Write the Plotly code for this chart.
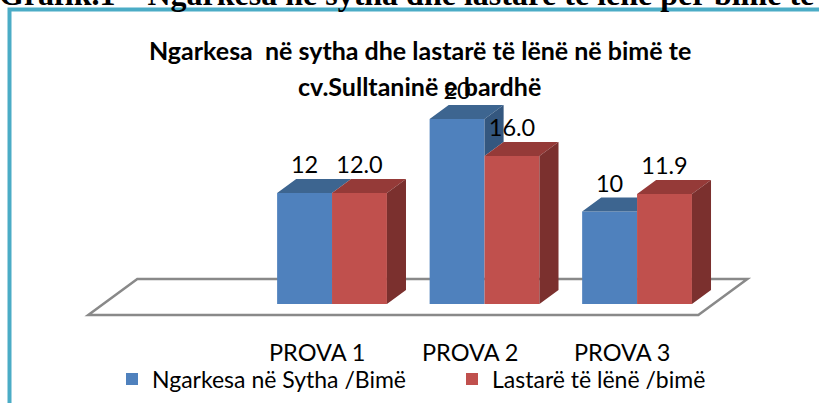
import plotly.graph_objects as go

# ---------------- data ----------------
categories = ["PROVA 1", "PROVA 2", "PROVA 3"]
ngarkesa_sytha = [12, 20, 10]          # Ngarkesa në Sytha /Bimë
lastare_lene = [12.0, 16.0, 11.9]      # Lastarë të lënë /bimë
series_names = ["Ngarkesa në Sytha /Bimë", "Lastarë të lënë /bimë"]
title_lines = ["Ngarkesa  në sytha dhe lastarë të lënë në bimë te", "cv.Sulltaninë e bardhë"]
page_heading = "Grafik.1 – Ngarkesa në sytha dhe lastarë të lënë për bimë te cv.Sulltaninë e bardhë"

# ---------------- style ----------------
W, H = 819, 403
FONT = "Lato"
BLUE, BLUE_TOP, BLUE_SIDE = "#4F81BD", "#3D6590", "#34577F"
RED, RED_TOP, RED_SIDE = "#C0504D", "#953A38", "#7B302E"
BORDER = "#4BACC6"
FLOOR_LINE = "#898989"

BARGAP = 0.28
BAR_W = (1 - BARGAP) / 2
DX, DY = 0.125, 1.51            # oblique depth offset of bars, in axis units
FLOOR_FRONT, FLOOR_BACK = -11 / 14, 25 / 14   # floor depth, relative to bar depth
FLOOR_PAD_LEFT, FLOOR_PAD_RIGHT = 1.5, 0.5
XR = [-2.177, 3.193]
YR = [-10.70, 32.86]

xs = list(range(len(categories)))

fig = go.Figure()

# front faces
fig.add_trace(go.Bar(x=xs, y=ngarkesa_sytha, name=series_names[0], marker=dict(color=BLUE, line=dict(width=0)),
                     hoverinfo="skip"))
fig.add_trace(go.Bar(x=xs, y=lastare_lene, name=series_names[1], marker=dict(color=RED, line=dict(width=0)),
                     hoverinfo="skip"))


def poly_trace(polys, color):
    px, py = [], []
    for p in polys:
        for (a, b) in p + [p[0]]:
            px.append(a)
            py.append(b)
        px.append(None)
        py.append(None)
    return go.Scatter(x=px, y=py, mode="lines", fill="toself", fillcolor=color,
                      line=dict(width=0, color=color), showlegend=False, hoverinfo="skip")


blue_tops, blue_sides, red_tops, red_sides = [], [], [], []
for i, b, r in zip(xs, ngarkesa_sytha, lastare_lene):
    left = i - BAR_W
    if r >= b + DY:
        blue_tops.append([(left, b), (i, b), (i, b + DY), (left + DX, b + DY)])
    else:
        blue_tops.append([(left, b), (i, b), (i + DX, b + DY), (left + DX, b + DY)])
    if b > r:
        blue_sides.append([(i, r), (i + DX, r + DY), (i + DX, b + DY), (i, b)])
    right = i + BAR_W
    red_tops.append([(i, r), (right, r), (right + DX, r + DY), (i + DX, r + DY)])
    red_sides.append([(right, 0), (right + DX, DY), (right + DX, r + DY), (right, r)])

fig.add_trace(poly_trace(blue_tops, BLUE_TOP))
if blue_sides:
    fig.add_trace(poly_trace(blue_sides, BLUE_SIDE))
fig.add_trace(poly_trace(red_tops, RED_TOP))
fig.add_trace(poly_trace(red_sides, RED_SIDE))

# data labels
LABEL_SIZE = 23.5
fig.add_trace(go.Scatter(x=[i - BAR_W / 2 for i in xs], y=[v + DY for v in ngarkesa_sytha], mode="text",
                         text=[f"{v:.0f}" for v in ngarkesa_sytha], textposition="top center",
                         textfont=dict(family=FONT, size=LABEL_SIZE, color="#000000"), showlegend=False,
                         hoverinfo="skip"))
fig.add_trace(go.Scatter(x=[i + BAR_W / 2 for i in xs], y=[v + DY for v in lastare_lene], mode="text",
                         text=[f"{v:.1f}" for v in lastare_lene], textposition="top center",
                         textfont=dict(family=FONT, size=LABEL_SIZE, color="#000000"), showlegend=False,
                         hoverinfo="skip"))

# floor (below traces)
fl = xs[0] - FLOOR_PAD_LEFT
fr = xs[-1] + FLOOR_PAD_RIGHT
fdx, fdy = DX * FLOOR_FRONT, DY * FLOOR_FRONT
bdx, bdy = DX * FLOOR_BACK, DY * FLOOR_BACK
path = (f"M {fl + fdx},{fdy} L {fr + fdx},{fdy} L {fr + bdx},{bdy} L {fl + bdx},{bdy} Z")
shapes = [dict(type="path", xref="x", yref="y", path=path, layer="below",
               line=dict(color=FLOOR_LINE, width=2.5), fillcolor="white"),
          dict(type="rect", xref="paper", yref="paper", x0=9.5 / W, x1=1.05, y0=-0.05, y1=1 - 9.5 / H,
               line=dict(color=BORDER, width=4), fillcolor="rgba(0,0,0,0)")]

annotations = []
# category labels at the floor front edge
for i, c in zip(xs, categories):
    annotations.append(dict(x=i + fdx, y=1 - 352 / H, xref="x", yref="paper", text=c, showarrow=False,
                            xanchor="center", yanchor="middle", font=dict(family=FONT, size=23.5, color="#000000")))
# chart title, two lines
for line, ypx in zip(title_lines, [50, 86]):
    annotations.append(dict(x=420 / W, y=1 - ypx / H, xref="paper", yref="paper", text=f"<b>{line}</b>",
                            showarrow=False, xanchor="center", yanchor="middle",
                            font=dict(family=FONT, size=25, color="#000000")))
# page heading (cut off at the top)
annotations.append(dict(x=-3 / W, y=1 + 6 / H, xref="paper", yref="paper", text=f"<b>{page_heading}</b>",
                        showarrow=False, xanchor="left", yanchor="middle",
                        font=dict(family="Liberation Serif", size=32, color="#000000")))

fig.update_layout(
    width=W, height=H,
    margin=dict(l=0, r=0, t=0, b=0, pad=0),
    paper_bgcolor="white", plot_bgcolor="white",
    barmode="group", bargap=BARGAP, bargroupgap=0,
    xaxis=dict(range=XR, visible=False, fixedrange=True),
    yaxis=dict(range=YR, visible=False, fixedrange=True),
    showlegend=True,
    legend=dict(orientation="h", x=112 / W, xanchor="left", y=1 - 379 / H, yanchor="middle",
                font=dict(family=FONT, size=23, color="#000000"), entrywidth=295, entrywidthmode="pixels",
                bgcolor="rgba(0,0,0,0)", traceorder="normal"),
    shapes=shapes,
    annotations=annotations,
)

fig.write_html("out.html", config={"displayModeBar": False, "staticPlot": True},
               post_script="document.body.style.margin='0';document.body.style.overflow='hidden';")
